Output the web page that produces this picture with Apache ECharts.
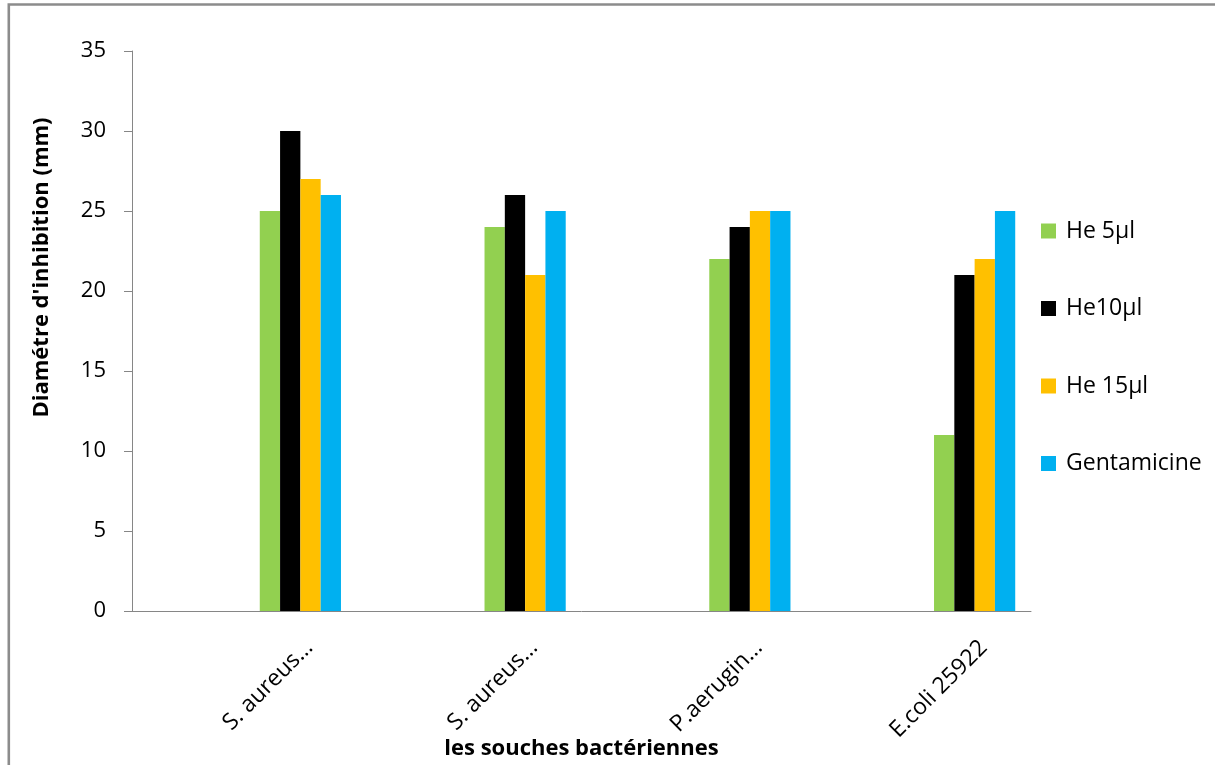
<!DOCTYPE html>
<html>
<head>
<meta charset="utf-8">
<title>Diamètre d'inhibition</title>
<script src="https://cdn.jsdelivr.net/npm/echarts@6/dist/echarts.min.js"></script>
<style>
  html, body { margin: 0; padding: 0; background: #ffffff; }
  #chart { width: 1215px; height: 765px; }
</style>
</head>
<body>
<div id="chart"></div>
<script>
// Bacterial strains (category axis)
const strains = ['S. aureus…', 'S. aureus…', 'P.aerugin…', 'E.coli 25922'];

// Inhibition zone diameters (mm) per treatment
const he5 = [25, 24, 22, 11];
const he10 = [30, 26, 24, 21];
const he15 = [27, 21, 25, 22];
const gentamicine = [26, 25, 25, 25];

const seriesNames = ['He 5µl', 'He10µl', 'He 15µl', 'Gentamicine'];
const seriesColors = ['#92D050', '#000000', '#FFC000', '#00B0F0'];

// Value axis ticks
const yMin = 0, yMax = 35, yStep = 5;

const FONT = '"Open Sans", "Liberation Sans", sans-serif';

const chart = echarts.init(document.getElementById('chart'), null, { renderer: 'canvas' });

const seriesValues = [he5, he10, he15, gentamicine];

const option = {
  backgroundColor: '#ffffff',
  animation: false,
  textStyle: { fontFamily: FONT, color: '#000' },
  graphic: [{
    type: 'rect',
    shape: { x: 8.8, y: 4.5, width: 1230, height: 800 },
    style: { fill: 'none', stroke: '#8c8c8c', lineWidth: 2.6 },
    silent: true
  }],
  grid: [
    // frame grid: value axis and baseline
    { left: 132, top: 51, width: 899, height: 560 },
    // bar grid: groups sit in the right part of each category slot
    { left: 188, top: 51, width: 899, height: 560 },
    // label grid: category names under each group
    { left: 197, top: 51, width: 899, height: 560 }
  ],
  xAxis: [
    {
      type: 'category', gridIndex: 0, data: strains,
      axisLine: { show: true, lineStyle: { color: '#868686', width: 1 } },
      axisTick: { show: false },
      axisLabel: { show: false },
      name: 'les souches bactériennes',
      nameLocation: 'middle',
      nameGap: 127,
      nameTextStyle: { fontFamily: FONT, fontSize: 22, fontWeight: 'bold', color: '#000' }
    },
    {
      type: 'category', gridIndex: 1, data: strains,
      axisLine: { show: false },
      axisTick: { show: false },
      axisLabel: { show: false }
    },
    {
      type: 'category', gridIndex: 2, data: strains,
      axisLine: { show: false },
      axisTick: { show: false },
      axisLabel: {
        interval: 0, rotate: 45, margin: 33,
        fontFamily: FONT, fontSize: 23, color: '#000'
      }
    }
  ],
  yAxis: [
    {
      type: 'value', gridIndex: 0, min: yMin, max: yMax, interval: yStep,
      axisLine: { show: true, lineStyle: { color: '#868686', width: 1 } },
      axisTick: { show: true, length: 8, lineStyle: { color: '#868686' } },
      splitLine: { show: false },
      axisLabel: { margin: 26, fontFamily: FONT, fontSize: 22, color: '#000' },
      name: "Diamétre d'inhibition (mm)",
      nameLocation: 'middle',
      nameRotate: 90,
      nameGap: 79,
      nameTextStyle: {
        fontFamily: FONT, fontSize: 22, fontWeight: 'bold', color: '#000',
        padding: [0, 0, 0, 127]
      }
    },
    {
      type: 'value', gridIndex: 1, min: yMin, max: yMax, interval: yStep,
      show: false
    },
    {
      type: 'value', gridIndex: 2, min: yMin, max: yMax, interval: yStep,
      show: false
    }
  ],
  legend: {
    orient: 'vertical',
    left: 1041,
    top: 219.5,
    padding: 0,
    itemWidth: 15,
    itemHeight: 15,
    itemGap: 54.5,
    icon: 'rect',
    data: seriesNames,
    textStyle: { fontFamily: FONT, fontSize: 23, color: '#000', lineHeight: 23, padding: [0, 0, 0, 5] }
  },
  series: seriesNames.map((name, i) => ({
    name: name,
    type: 'bar',
    xAxisIndex: 1,
    yAxisIndex: 1,
    data: seriesValues[i],
    barWidth: 20.3,
    barGap: '0%',
    itemStyle: { color: seriesColors[i] }
  }))
};

chart.setOption(option);
</script>
</body>
</html>
